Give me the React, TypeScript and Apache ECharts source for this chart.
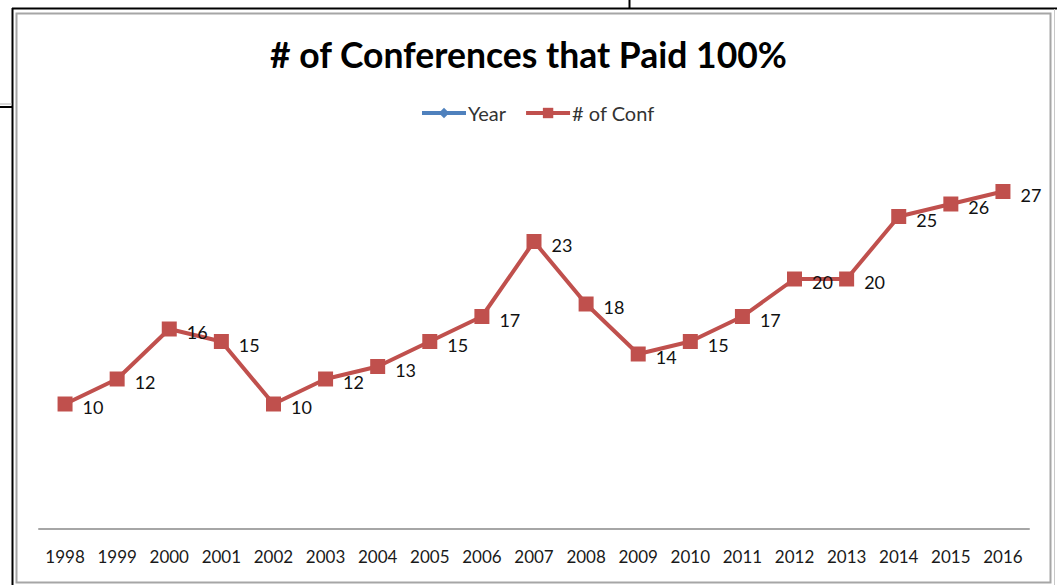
import React, { useEffect, useRef } from "react";
import * as echarts from "echarts";

const years = ["1998","1999","2000","2001","2002","2003","2004","2005","2006","2007","2008","2009","2010","2011","2012","2013","2014","2015","2016"];
const confCounts = [10,12,16,15,10,12,13,15,17,23,18,14,15,17,20,20,25,26,27];
const yearSeries: number[] = [];

export default function App() {
  const ref = useRef<HTMLDivElement>(null);
  useEffect(() => {
    if (!ref.current) return;
    const chart = echarts.init(ref.current, null, { renderer: "svg" });
    const font = "Lato, 'Open Sans', sans-serif";
    chart.setOption({
      animation: false,
      backgroundColor: "#ffffff",
      title: {
        text: "# of Conferences that Paid 100%",
        left: "center",
        top: 31,
        textStyle: { fontFamily: font, fontSize: 35.5, fontWeight: "bold", color: "#000000" },
      },
      legend: {
        top: 98,
        left: 415,
        itemWidth: 44,
        itemHeight: 13,
        itemGap: 18,
        textStyle: { fontFamily: font, fontSize: 20, color: "#333333", padding: [0, 0, 0, -3] },
        lineStyle: { width: 4 },
        data: ["Year", "# of Conf"],
      },
      grid: { left: 39, right: 28, top: 154, bottom: 56 },
      xAxis: {
        type: "category",
        data: years,
        boundaryGap: true,
        axisLine: { lineStyle: { color: "#a6a6a6", width: 2 } },
        axisTick: { show: false },
        axisLabel: { fontFamily: font, fontSize: 17, color: "#1a1a1a", margin: 19, interval: 0 },
      },
      yAxis: {
        type: "value",
        min: 0,
        max: 30,
        show: false,
        splitLine: { show: false },
      },
      series: [
        {
          name: "Year",
          type: "line",
          data: yearSeries,
          symbol: "diamond",
          symbolSize: 10,
          itemStyle: { color: "#4f81bd" },
          lineStyle: { color: "#4f81bd", width: 4 },
        },
        {
          name: "# of Conf",
          type: "line",
          data: confCounts,
          symbol: "rect",
          symbolSize: 15,
          itemStyle: { color: "#c0504d" },
          lineStyle: { color: "#c0504d", width: 4 },
          label: {
            show: true,
            position: "right",
            distance: 10,
            offset: [0, 3],
            fontFamily: font,
            fontSize: 18,
            color: "#111111",
          },
        },
      ],
      graphic: [
        { type: "line", shape: { x1: 12, y1: 8.5, x2: 1057, y2: 8.5 }, style: { stroke: "#000", lineWidth: 2 } },
        { type: "line", shape: { x1: 12.5, y1: 8, x2: 12.5, y2: 585 }, style: { stroke: "#000", lineWidth: 2 } },
        { type: "line", shape: { x1: 0, y1: 107, x2: 12, y2: 107 }, style: { stroke: "#000", lineWidth: 2 } },
        { type: "line", shape: { x1: 0, y1: 104, x2: 12, y2: 104 }, style: { stroke: "#b0b0b0", lineWidth: 1 } },
        { type: "line", shape: { x1: 629.5, y1: 0, x2: 629.5, y2: 8 }, style: { stroke: "#000", lineWidth: 2 } },
        { type: "rect", shape: { x: 16.5, y: 13.5, width: 1034, height: 569 }, style: { fill: "none", stroke: "#a6a6a6", lineWidth: 2 } },
        { type: "line", shape: { x1: 1054.5, y1: 9, x2: 1054.5, y2: 585 }, style: { stroke: "#c8c8c8", lineWidth: 1 } },
      ],
    });
    return () => chart.dispose();
  }, []);
  return (
    <div
      ref={ref}
      style={{ position: "fixed", left: 0, top: 0, width: 1057, height: 585 }}
    />
  );
}
